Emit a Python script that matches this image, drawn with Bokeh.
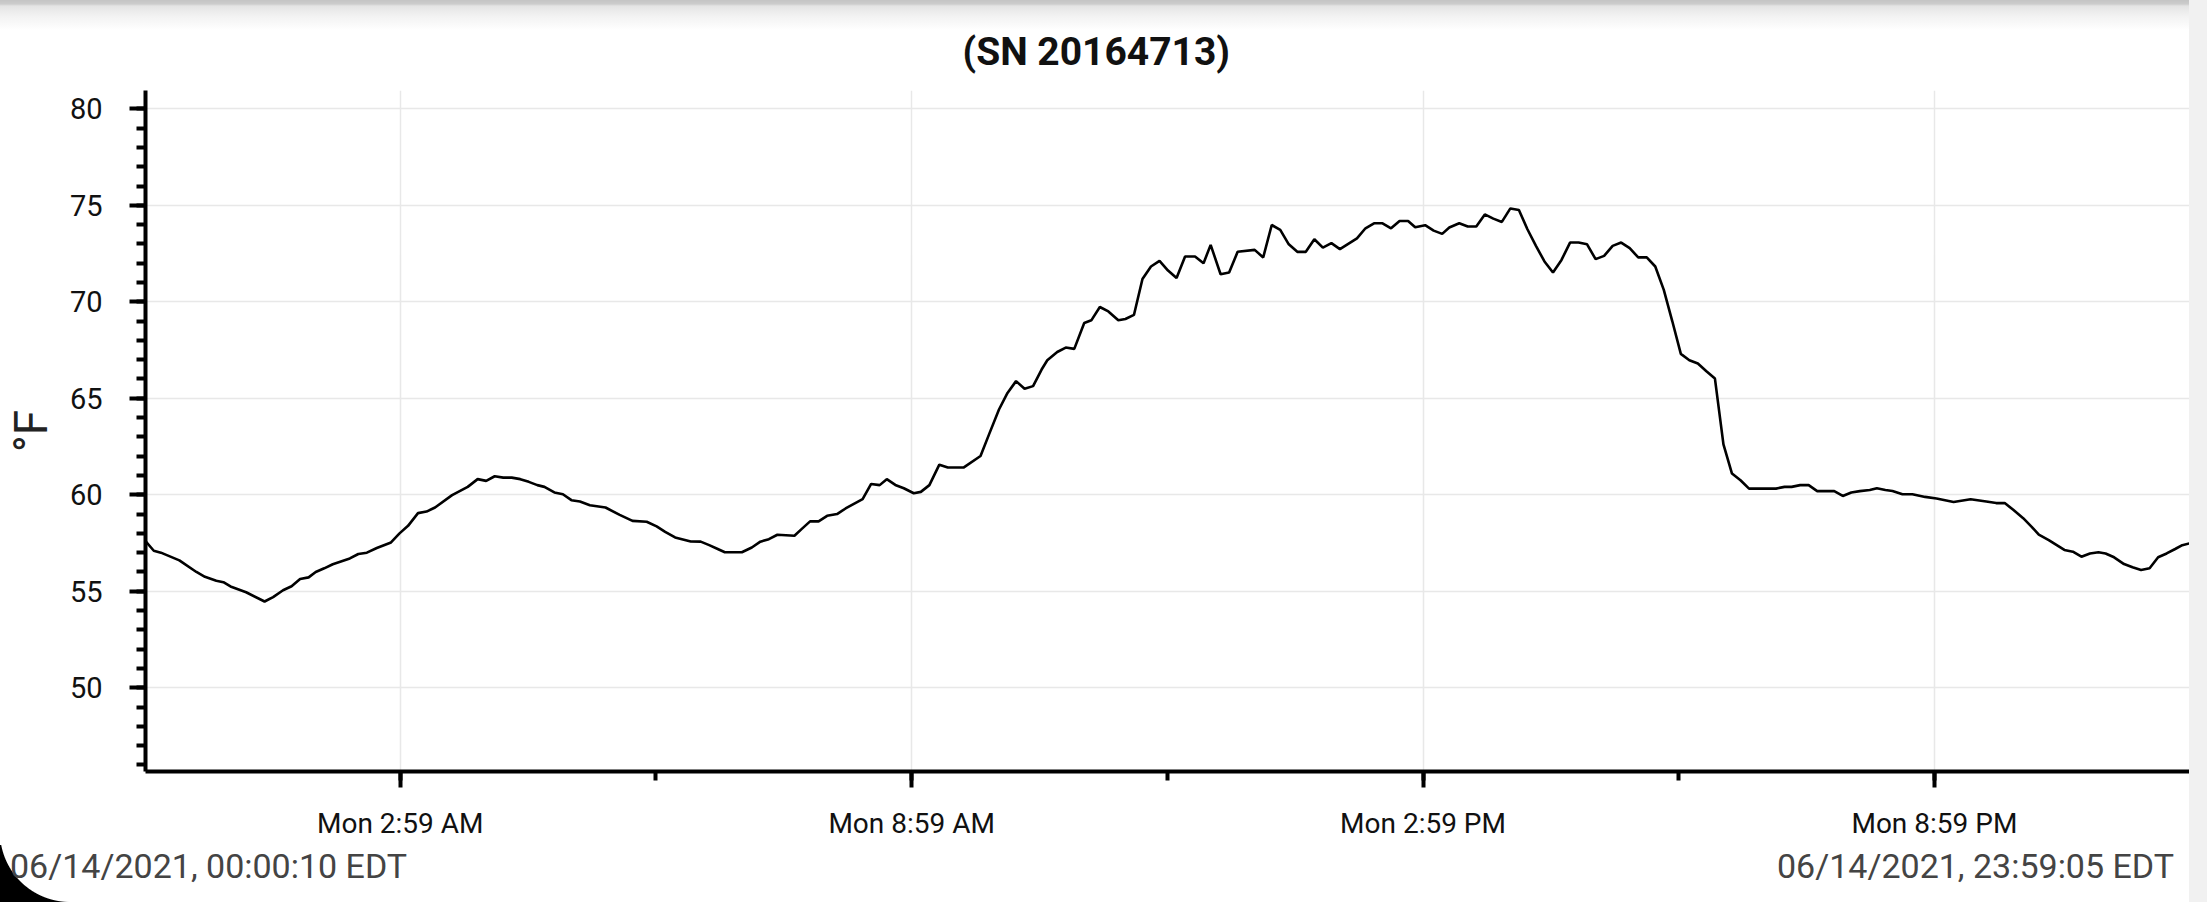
from datetime import datetime, timedelta
from bokeh.plotting import figure
from bokeh.models import Range1d, FixedTicker, Div
from bokeh.layouts import column, row
from bokeh.embed import file_html
from bokeh.resources import INLINE

# ---------------- data ----------------
title_text = "(SN 20164713)"
y_label = "°F"
start_label = "06/14/2021, 00:00:10 EDT"
end_label = "06/14/2021, 23:59:05 EDT"

# minutes after midnight, 06/14/2021
minutes = [0.17, 6, 11, 24, 36, 42, 50, 55, 60, 71, 84, 90, 97, 103, 109, 115, 120, 126, 132, 144,
           150, 156, 163, 173, 179, 185, 192, 198, 204, 216, 227, 234, 240, 246, 252, 258, 264, 270,
           276, 281, 288, 294, 300, 306, 313, 324, 334, 343, 353, 360, 366, 373, 384, 391, 397, 403,
           408, 420, 427, 433, 439, 445, 457, 462, 468, 474, 480, 487, 493, 505, 511, 517, 522, 528,
           534, 541, 546, 552, 559, 565, 576, 588, 594, 601, 607, 613, 619, 625, 631, 635, 642, 648,
           654, 661, 666, 672, 678, 685, 690, 696, 702, 708, 714, 720, 726, 732, 739, 745, 750, 757,
           763, 769, 781, 787, 793, 799, 805, 811, 817, 823, 829, 835, 841, 853, 859, 865, 871, 877,
           883, 889, 894, 901, 907, 913, 918, 925, 931, 937, 943, 949, 955, 961, 967, 973, 979, 985,
           991, 997, 1003, 1009, 1015, 1021, 1027, 1033, 1039, 1045, 1051, 1057, 1063, 1069, 1075,
           1081, 1087, 1093, 1099, 1105, 1111, 1117, 1123, 1129, 1135, 1141, 1148, 1154, 1159, 1165,
           1171, 1177, 1183, 1189, 1195, 1201, 1207, 1214, 1219, 1225, 1230, 1237, 1244, 1253, 1261,
           1273, 1285, 1296, 1303, 1309, 1315, 1322, 1328, 1333, 1340, 1351, 1357, 1363, 1369, 1375,
           1380, 1386, 1393, 1399, 1405, 1411, 1417, 1423, 1429, 1434, 1438.92]

temps_f = [57.6, 57.1, 57.0, 56.6, 56.0, 55.75, 55.55, 55.47, 55.25, 54.95, 54.47, 54.7, 55.05, 55.26,
           55.64, 55.72, 56.0, 56.19, 56.4, 56.7, 56.93, 57.0, 57.24, 57.53, 58.0, 58.39, 59.05, 59.13,
           59.34, 59.98, 60.41, 60.81, 60.72, 60.96, 60.89, 60.89, 60.81, 60.67, 60.5, 60.41, 60.12,
           60.03, 59.72, 59.65, 59.46, 59.34, 58.96, 58.65, 58.6, 58.36, 58.08, 57.79, 57.58, 57.57,
           57.39, 57.19, 57.02, 57.02, 57.27, 57.57, 57.7, 57.93, 57.88, 58.22, 58.62, 58.62, 58.91,
           59.0, 59.29, 59.77, 60.56, 60.5, 60.81, 60.51, 60.34, 60.08, 60.15, 60.5, 61.56, 61.41,
           61.41, 62.01, 63.13, 64.42, 65.28, 65.89, 65.49, 65.63, 66.49, 66.97, 67.4, 67.63, 67.56,
           68.9, 69.04, 69.73, 69.5, 69.04, 69.11, 69.32, 71.18, 71.83, 72.12, 71.62, 71.23, 72.35,
           72.35, 72.0, 72.95, 71.43, 71.52, 72.59, 72.69, 72.3, 73.98, 73.73, 72.98, 72.59, 72.59,
           73.24, 72.81, 73.04, 72.73, 73.29, 73.81, 74.07, 74.07, 73.81, 74.19, 74.19, 73.86, 73.97,
           73.69, 73.52, 73.85, 74.07, 73.9, 73.9, 74.53, 74.31, 74.14, 74.84, 74.76, 73.76, 72.9,
           72.09, 71.52, 72.17, 73.07, 73.07, 72.98, 72.21, 72.38, 72.9, 73.07, 72.78, 72.3, 72.3,
           71.83, 70.62, 68.99, 67.3, 66.97, 66.8, 66.4, 66.02, 62.61, 61.1, 60.75, 60.32, 60.32,
           60.32, 60.32, 60.41, 60.41, 60.5, 60.5, 60.19, 60.19, 60.19, 59.94, 60.12, 60.19, 60.25,
           60.34, 60.25, 60.2, 60.03, 60.03, 59.89, 59.81, 59.63, 59.77, 59.65, 59.57, 59.57, 59.22,
           58.79, 58.34, 57.93, 57.65, 57.14, 57.05, 56.79, 56.96, 57.02, 56.96, 56.76, 56.41, 56.24,
           56.1, 56.19, 56.76, 56.96, 57.19, 57.39, 57.48]

y_major_ticks = [50, 55, 60, 65, 70, 75, 80]
y_minor_ticks = list(range(46, 81))
x_major_times = ["02:59:30", "08:59:30", "14:59:30", "20:59:30"]
x_major_labels = ["Mon 2:59 AM", "Mon 8:59 AM", "Mon 2:59 PM", "Mon 8:59 PM"]
x_minor_times = ["05:59:30", "11:59:30", "17:59:30"]

# ---------------- build ----------------
day = datetime(2021, 6, 14)
epoch = datetime(1970, 1, 1)
times = [day + timedelta(minutes=m) for m in minutes]
x_start = day + timedelta(seconds=10)
x_end = day + timedelta(hours=23, minutes=59, seconds=5)
y_lo, y_hi = 45.66, 80.95


def to_ms(hms):
    h, m, s = (int(v) for v in hms.split(":"))
    return (day + timedelta(hours=h, minutes=m, seconds=s) - epoch).total_seconds() * 1000.0


x_major = [to_ms(t) for t in x_major_times]
x_minor = [to_ms(t) for t in x_minor_times] + x_major

FONT = "Roboto"

p = figure(width=2189, height=842, x_axis_type="datetime",
           x_range=Range1d(x_start, x_end), y_range=Range1d(y_lo, y_hi),
           output_backend="svg", toolbar_location=None,
           min_border_left=145, min_border_right=0, min_border_top=90, min_border_bottom=71,
           background_fill_color="white", border_fill_alpha=0.0, margin=0)
p.outline_line_color = None

p.title.text = title_text
p.title.align = "left"
p.title.offset = 817
p.title.standoff = 32
p.title.text_font = FONT
p.title.text_font_size = "39px"
p.title.text_font_style = "bold"
p.title.text_color = "#111111"

p.line(times, temps_f, line_color="black", line_width=2.6)

xa = p.xaxis[0]
xa.ticker = FixedTicker(ticks=x_major, minor_ticks=x_minor)
xa.major_label_overrides = {v: lab for v, lab in zip(x_major, x_major_labels)}
ya = p.yaxis[0]
ya.ticker = FixedTicker(ticks=y_major_ticks, minor_ticks=y_minor_ticks)
ya.axis_label = y_label

for ax in (xa, ya):
    ax.axis_line_width = 4
    ax.axis_line_color = "black"
    ax.major_tick_line_width = 4
    ax.minor_tick_line_width = 4
    ax.major_tick_line_color = "black"
    ax.minor_tick_line_color = "black"
    ax.major_tick_in = 0
    ax.minor_tick_in = 0
    ax.major_label_text_font = FONT
    ax.major_label_text_color = "#111111"
    ax.axis_label_text_font = FONT
    ax.axis_label_text_font_style = "normal"

xa.major_tick_out = 16
xa.minor_tick_out = 9
xa.major_label_text_font_size = "28px"
xa.major_label_standoff = 19
ya.major_tick_out = 16
ya.minor_tick_out = 9
ya.major_label_text_font_size = "29px"
ya.major_label_standoff = 27
ya.axis_label_text_font_size = "46px"
ya.axis_label_text_color = "#222222"
ya.axis_label_standoff = 9

p.xgrid.grid_line_color = "#e8e8e8"
p.xgrid.grid_line_width = 1.5
p.ygrid.grid_line_color = "#e8e8e8"
p.ygrid.grid_line_width = 1.5

# footer: start / end timestamps and the rounded screen corner
footer_html = (
    '<div style="position:relative;width:2189px;height:60px;font-family:Roboto;font-size:34px;'
    'line-height:34px;color:#444444;white-space:nowrap;">'
    '<div style="position:absolute;left:0;bottom:0;width:70px;height:57px;'
    'background:radial-gradient(circle 70px at 70px -13px, rgba(0,0,0,0) 69.5px, #000000 70.5px);"></div>'
    f'<span style="position:absolute;left:10px;top:7px;">{start_label}</span>'
    f'<span style="position:absolute;right:15px;top:7px;">{end_label}</span>'
    '</div>'
)
footer = Div(text=footer_html, width=2189, height=60, margin=0)
strip = Div(text="", width=18, height=902, margin=0, styles={"background-color": "#f1f1f1"})

layout = row(column(p, footer, spacing=0, margin=0), strip, spacing=0, margin=0,
             styles={"background": "linear-gradient(to bottom, #c4c4c4 0px, #cccccc 4px, #e4e4e4 6px, "
                                   "#f2f2f2 16px, #fbfbfb 26px, #ffffff 30px) no-repeat top left / 100% 30px, #ffffff"})

open("out.html", "w").write(file_html(layout, INLINE))
